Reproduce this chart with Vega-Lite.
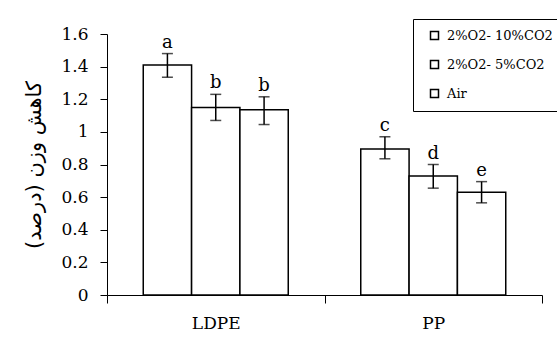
{
  "$schema": "https://vega.github.io/schema/vega-lite/v6.json",
  "autosize": "none",
  "width": 435,
  "height": 261,
  "padding": {"left": 107, "top": 34, "right": 15, "bottom": 54},
  "background": "white",
  "data": {
    "values": [
      {"group": "LDPE", "treat": "2%O2- 10%CO2", "mean": 1.41, "lower": 1.335, "upper": 1.48, "letter": "a"},
      {"group": "LDPE", "treat": "2%O2- 5%CO2", "mean": 1.15, "lower": 1.07, "upper": 1.23, "letter": "b"},
      {"group": "LDPE", "treat": "Air", "mean": 1.135, "lower": 1.045, "upper": 1.215, "letter": "b"},
      {"group": "PP", "treat": "2%O2- 10%CO2", "mean": 0.895, "lower": 0.835, "upper": 0.97, "letter": "c"},
      {"group": "PP", "treat": "2%O2- 5%CO2", "mean": 0.73, "lower": 0.655, "upper": 0.8, "letter": "d"},
      {"group": "PP", "treat": "Air", "mean": 0.63, "lower": 0.565, "upper": 0.695, "letter": "e"}
    ]
  },
  "encoding": {
    "x": {
      "field": "group", "type": "nominal",
      "scale": {"paddingInner": 0, "paddingOuter": 0},
      "axis": {
        "title": null, "labelAngle": 0, "tickBand": "extent",
        "domainColor": "black", "tickColor": "black", "tickSize": 8,
        "labelPadding": 12, "labelFont": "DejaVu Serif", "labelFontSize": 17, "labelColor": "black"
      }
    },
    "xOffset": {
      "field": "treat", "type": "nominal",
      "sort": ["2%O2- 10%CO2", "2%O2- 5%CO2", "Air"],
      "scale": {"paddingInner": 0, "paddingOuter": 0.75}
    },
    "y": {
      "field": "mean", "type": "quantitative",
      "scale": {"domain": [0, 1.6], "nice": false},
      "axis": {
        "values": [0, 0.2, 0.4, 0.6, 0.8, 1, 1.2, 1.4, 1.6],
        "format": "~g", "labelOverlap": false, "labelBound": false,
        "grid": false, "domainColor": "black", "tickColor": "black", "tickSize": 7,
        "labelPadding": 12, "labelFont": "DejaVu Serif", "labelFontSize": 17, "labelColor": "black",
        "title": "کاهش وزن (درصد)", "titleFont": "DejaVu Sans", "titleFontSize": 21,
        "titleFontWeight": "normal", "titleColor": "black", "titlePadding": 16
      }
    }
  },
  "layer": [
    {
      "mark": {"type": "bar", "stroke": "black", "strokeWidth": 1.5},
      "encoding": {
        "fill": {
          "field": "treat", "type": "nominal",
          "sort": ["2%O2- 10%CO2", "2%O2- 5%CO2", "Air"],
          "scale": {"range": ["white", "white", "white"]},
          "legend": {
            "title": null, "orient": "none", "legendX": 306, "legendY": -15,
            "strokeColor": "black", "fillColor": "white", "padding": 10,
            "symbolType": "square", "symbolSize": 64, "symbolStrokeColor": "black", "symbolStrokeWidth": 1.5,
            "symbolOffset": 5,
            "labelFont": "DejaVu Serif", "labelFontSize": 13, "labelColor": "black",
            "rowPadding": 14, "labelOffset": 6
          }
        }
      }
    },
    {
      "mark": {"type": "rule", "color": "black", "strokeWidth": 1.5},
      "encoding": {
        "y": {"field": "lower", "type": "quantitative"},
        "y2": {"field": "upper"}
      }
    },
    {
      "mark": {"type": "tick", "color": "black", "thickness": 1.5, "size": 11},
      "encoding": {"y": {"field": "lower", "type": "quantitative"}}
    },
    {
      "mark": {"type": "tick", "color": "black", "thickness": 1.5, "size": 11},
      "encoding": {"y": {"field": "upper", "type": "quantitative"}}
    },
    {
      "mark": {"type": "text", "font": "DejaVu Serif", "fontSize": 18, "color": "black", "baseline": "alphabetic", "dy": -6},
      "encoding": {
        "y": {"field": "upper", "type": "quantitative"},
        "text": {"field": "letter"}
      }
    }
  ],
  "config": {
    "view": {"stroke": null}
  }
}
